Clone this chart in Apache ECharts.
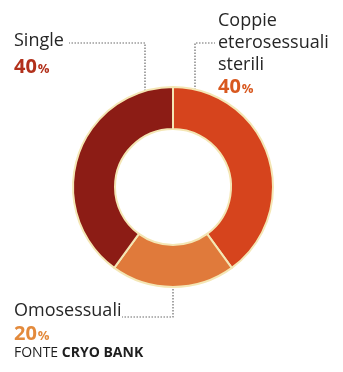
<!DOCTYPE html>
<html>
<head>
<meta charset="utf-8">
<script src="https://cdn.jsdelivr.net/npm/echarts@6/dist/echarts.min.js"></script>
<style>
html,body{margin:0;padding:0;background:#fff;}
#c{width:343px;height:372px;}
</style>
</head>
<body>
<div id="c"></div>
<script>
// Data
var categories = ['Coppie\neterosessuali\nsterili', 'Omosessuali', 'Single'];
var values = [40, 20, 40];
var sliceColors = ['#d6441d', '#e07a3b', '#8c1c15'];
var pctColors = ['#d8581f', '#e38a3c', '#b2301b'];
var sourceLabel = ['FONTE', 'CRYO BANK'];

// Label layout (top-left of label, line heights, leader polyline)
var labelPos = [
  {x: 218, y: 10, nameLH: 22, pctLH: 22, pts: [[195, 90], [195, 43], [215, 43]]},
  {x: 14, y: 300, nameLH: 22, pctLH: 24, pts: [[173, 286], [173, 317], [122, 317]]},
  {x: 14, y: 29, nameLH: 24, pctLH: 28, pts: [[145, 91], [145, 43], [69, 43]]}
];

var chart = echarts.init(document.getElementById('c'), null, {renderer: 'canvas'});
var fontFam = '"Open Sans", "Noto Sans", sans-serif';

var rich = {};
pctColors.forEach(function (c, i) {
  var lp = labelPos[i];
  rich['n' + i] = {fontSize: 18, lineHeight: lp.nameLH, color: '#262626', fontFamily: fontFam};
  rich['p' + i] = {fontSize: 20, fontWeight: 'bold', lineHeight: lp.pctLH, color: c, fontFamily: fontFam};
  rich['s' + i] = {fontSize: 13, fontWeight: 'bold', lineHeight: lp.pctLH, color: c, fontFamily: fontFam, padding: [5, 0, 0, 1]};
});

var data = categories.map(function (name, i) {
  return {name: name, value: values[i], itemStyle: {color: sliceColors[i]}};
});

chart.setOption({
  backgroundColor: '#ffffff',
  animation: false,
  title: {
    text: '{a|' + sourceLabel[0] + ' }{b|' + sourceLabel[1] + '}',
    left: 9, top: 341,
    textStyle: {
      fontWeight: 'normal',
      rich: {
        a: {fontSize: 14, fontWeight: 'normal', color: '#1e1e1e', fontFamily: fontFam},
        b: {fontSize: 14, fontWeight: 'bold', color: '#1e1e1e', fontFamily: fontFam}
      }
    }
  },
  series: [{
    type: 'pie',
    center: [173, 187],
    radius: [58, 100],
    startAngle: 90,
    clockwise: true,
    silent: true,
    avoidLabelOverlap: false,
    itemStyle: {borderColor: '#f4e6b4', borderWidth: 2},
    label: {
      show: true,
      overflow: 'none',
      width: 200,
      formatter: function (p) {
        var i = p.dataIndex;
        var lines = p.name.split('\n').map(function (l) { return '{n' + i + '|' + l + '}'; });
        lines.push('{p' + i + '|' + p.value + '}{s' + i + '|%}');
        return lines.join('\n');
      },
      rich: rich,
      align: 'left'
    },
    labelLine: {
      show: true,
      lineStyle: {type: [1.5, 1.5], color: '#6a6a6a', width: 1.2}
    },
    labelLayout: function (params) {
      var lp = labelPos[params.dataIndex];
      return {
        x: lp.x, y: lp.y, align: 'left', verticalAlign: 'top',
        labelLinePoints: lp.pts
      };
    },
    data: data
  }]
});
</script>
</body>
</html>
